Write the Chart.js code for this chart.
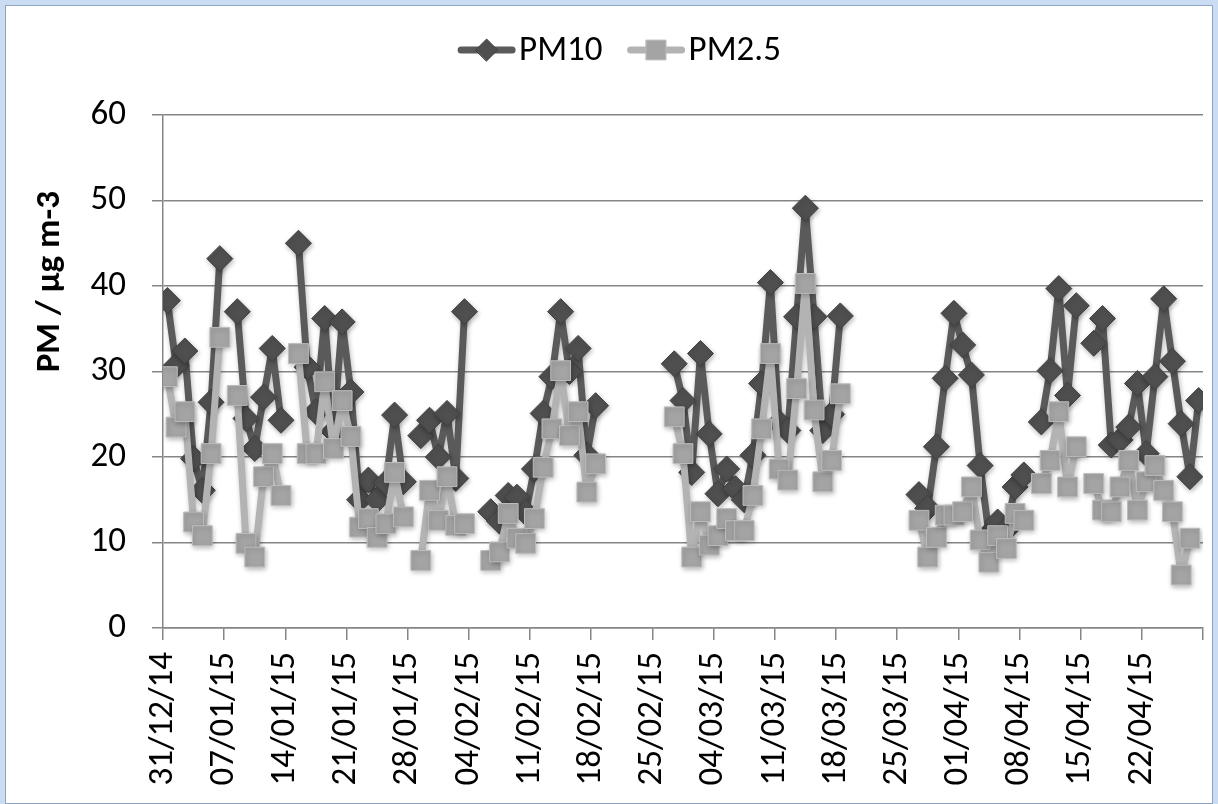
<!DOCTYPE html>
<html>
<head>
<meta charset="utf-8">
<title>PM10 / PM2.5</title>
<script src="https://cdn.jsdelivr.net/npm/chart.js@4.4.1/dist/chart.umd.min.js"></script>
<style>
  html, body { margin: 0; padding: 0; background: #c9dcf2; }
  #frame {
    position: absolute; left: 5px; top: 5px; width: 1208px; height: 799px;
    background: #fff; border: 1px solid #8ea4c0; box-sizing: border-box;
  }
  #wrap { position: absolute; left: 0; top: 0; width: 1218px; height: 804px; }
</style>
</head>
<body>
<div id="frame"></div>
<div id="wrap"><canvas id="pmChart" width="1218" height="804"></canvas></div>
<script>
// tick labels every 7 days, first day of the axis is 31/12/14
const tickLabels = [
  "31/12/14", "07/01/15", "14/01/15", "21/01/15", "28/01/15", "04/02/15",
  "11/02/15", "18/02/15", "25/02/15", "04/03/15", "11/03/15", "18/03/15",
  "25/03/15", "01/04/15", "08/04/15", "15/04/15", "22/04/15"
];
const daysOnAxis = 119;

// daily values, 31/12/14 .. 28/04/15 (null = no measurement)
const pm10 = [
  38.3, 30.7, 32.4, 19.8, 16.1, 26.4, 43.2, null, 37.0, 24.5,
  21.0, 27.0, 32.7, 24.3, null, 45.0, 30.5, 25.3, 36.2, 23.0,
  35.8, 27.6, 15.0, 17.3, 15.0, 17.0, 24.9, 17.1, null, 22.5,
  24.3, 20.0, 25.1, 17.5, 37.0, null, null, 13.6, 12.5, 15.5,
  15.3, 13.5, 18.6, 25.1, 29.4, 37.0, 30.0, 32.7, 20.2, 26.0,
  null, null, null, null, null, null, null, null, 30.9, 26.6,
  18.2, 32.1, 22.7, 15.7, 18.6, 16.3, 15.0, 20.2, 28.6, 40.4,
  24.0, 23.1, 36.4, 49.1, 36.4, 23.1, 25.0, 36.5, null, null,
  null, null, null, null, null, null, 15.6, 14.0, 21.2, 29.2,
  36.8, 33.1, 29.6, 19.0, 11.0, 12.4, 11.5, 16.5, 17.9, null,
  24.1, 30.1, 39.7, 27.2, 37.7, null, 33.3, 36.2, 21.4, 22.0,
  23.5, 28.6, 20.4, 29.4, 38.5, 31.2, 23.9, 17.7, 26.6
];
const pm25 = [
  29.4, 23.5, 25.3, 12.4, 10.8, 20.4, 34.0, null, 27.2, 9.9,
  8.3, 17.7, 20.4, 15.5, null, 32.1, 20.4, 20.4, 28.8, 21.0,
  26.6, 22.4, 11.8, 12.8, 10.6, 12.2, 18.2, 13.0, null, 7.9,
  16.1, 12.6, 17.7, 12.0, 12.2, null, null, 7.9, 8.9, 13.4,
  10.5, 9.9, 12.8, 18.8, 23.3, 30.1, 22.5, 25.3, 15.9, 19.2,
  null, null, null, null, null, null, null, null, 24.7, 20.4,
  8.3, 13.6, 9.7, 10.8, 12.8, 11.4, 11.4, 15.5, 23.3, 32.1,
  18.6, 17.3, 28.0, 40.3, 25.5, 17.1, 19.6, 27.4, null, null,
  null, null, null, null, null, null, 12.6, 8.3, 10.6, 13.2,
  13.2, 13.6, 16.5, 10.3, 7.7, 10.8, 9.3, 13.4, 12.6, null,
  16.9, 19.6, 25.3, 16.5, 21.2, null, 16.9, 13.8, 13.6, 16.5,
  19.6, 13.8, 17.1, 19.0, 16.1, 13.6, 6.2, 10.5, null
];

const FONT = "Carlito, Lato, 'Open Sans', sans-serif";
const FONT_SIZE = 35;
const AXIS_GREY = "#868686";
const yTitle = "PM / μg m-3";

// each day sits in the middle of its slot, like Excel's date axis
function toPoints(values) {
  return values.map((v, i) => ({ x: i + 0.5, y: v }));
}

/**
 * Excel style legend: a short line with the marker in the middle, then the name.
 * Also draws the y axis title, which sits above the middle of the axis.
 */
const lineLegend = {
  id: "lineLegend",
  afterDraw(chart) {
    const ctx = chart.ctx;
    const lineLen = 59;
    const textGap = 3;
    const itemGap = 24;
    const y = 50;

    ctx.save();
    ctx.font = FONT_SIZE + "px " + FONT;
    const items = chart.data.datasets.map((ds) => ({
      ds: ds,
      w: ctx.measureText(ds.label).width,
    }));
    const total =
      items.reduce((s, it) => s + lineLen + textGap + it.w, 0) +
      itemGap * (items.length - 1);
    let x = chart.width / 2 + 10 - total / 2;

    items.forEach(({ ds, w }) => {
      ctx.strokeStyle = ds.borderColor;
      ctx.lineWidth = ds.borderWidth;
      ctx.lineCap = "round";
      ctx.beginPath();
      ctx.moveTo(x + 4, y);
      ctx.lineTo(x + lineLen - 4, y);
      ctx.stroke();

      ctx.fillStyle = ds.pointBackgroundColor;
      ctx.strokeStyle = ds.pointBorderColor;
      ctx.lineWidth = 1;
      Chart.helpers.drawPoint(
        ctx,
        { pointStyle: ds.pointStyle, radius: ds.legendRadius, borderWidth: 1 },
        x + lineLen / 2,
        y
      );

      ctx.fillStyle = "#000";
      ctx.textBaseline = "middle";
      ctx.textAlign = "left";
      ctx.fillText(ds.label, x + lineLen + textGap, y + 1);
      x += lineLen + textGap + w + itemGap;
    });

    // y axis title
    const area = chart.chartArea;
    ctx.translate(50, area.top + (area.bottom - area.top) * 0.325);
    ctx.rotate(-Math.PI / 2);
    ctx.font = "bold " + FONT_SIZE + "px " + FONT;
    ctx.textAlign = "center";
    ctx.textBaseline = "middle";
    ctx.fillStyle = "#000";
    ctx.fillText(yTitle, 0, 0);
    ctx.restore();
  },
};

// soft drop shadow under lines and markers
const seriesShadow = {
  id: "seriesShadow",
  beforeDatasetsDraw(chart) {
    const ctx = chart.ctx;
    ctx.save();
    ctx.shadowColor = "rgba(0, 0, 0, 0.28)";
    ctx.shadowBlur = 5;
    ctx.shadowOffsetX = 1;
    ctx.shadowOffsetY = 2;
  },
  afterDatasetsDraw(chart) {
    chart.ctx.restore();
  },
};

new Chart(document.getElementById("pmChart").getContext("2d"), {
  type: "line",
  data: {
    datasets: [
      {
        label: "PM10",
        data: toPoints(pm10),
        borderColor: "#5a5a5a",
        borderWidth: 7,
        borderJoinStyle: "round",
        pointStyle: "rectRot",
        pointRadius: 13,
        legendRadius: 11,
        pointBackgroundColor: "#4f4f4f",
        pointBorderColor: "#404040",
        pointBorderWidth: 1,
        spanGaps: false,
        tension: 0,
        order: 2,
      },
      {
        label: "PM2.5",
        data: toPoints(pm25),
        borderColor: "#b3b3b3",
        borderWidth: 7,
        borderJoinStyle: "round",
        pointStyle: "rect",
        pointRadius: 14,
        legendRadius: 14,
        pointBackgroundColor: "#a4a4a4",
        pointBorderColor: "#bcbcbc",
        pointBorderWidth: 1,
        spanGaps: false,
        tension: 0,
        order: 1,
      },
    ],
  },
  options: {
    responsive: false,
    animation: false,
    devicePixelRatio: 1,
    layout: { padding: { top: 115, right: 15, bottom: 0, left: 0 } },
    plugins: {
      legend: { display: false },
      tooltip: { enabled: false },
    },
    scales: {
      x: {
        type: "linear",
        min: 0,
        max: daysOnAxis,
        afterBuildTicks: (scale) => {
          const ticks = [];
          for (let d = 0; d <= daysOnAxis; d += 7) ticks.push({ value: d });
          scale.ticks = ticks;
        },
        afterFit: (scale) => {
          scale.height = 176;
          scale.paddingLeft = 0;
          scale.paddingRight = 0;
        },
        ticks: {
          autoSkip: false,
          minRotation: 90,
          maxRotation: 90,
          padding: 12,
          color: "#000",
          font: { family: FONT, size: FONT_SIZE },
          callback: (value) => tickLabels[value / 7] || "",
        },
        grid: {
          drawOnChartArea: false,
          drawTicks: true,
          tickLength: 12,
          color: AXIS_GREY,
          lineWidth: 1.5,
        },
        border: { color: AXIS_GREY, width: 1.5 },
      },
      y: {
        min: 0,
        max: 60,
        afterFit: (scale) => {
          scale.width = 163;
          scale.paddingTop = 0;
          scale.paddingBottom = 0;
        },
        ticks: {
          stepSize: 10,
          padding: 26,
          color: "#000",
          font: { family: FONT, size: FONT_SIZE },
        },
        grid: { color: AXIS_GREY, lineWidth: 1.5, tickLength: 11 },
        border: { color: AXIS_GREY, width: 1.5 },
      },
    },
  },
  plugins: [seriesShadow, lineLegend],
});
</script>
</body>
</html>
